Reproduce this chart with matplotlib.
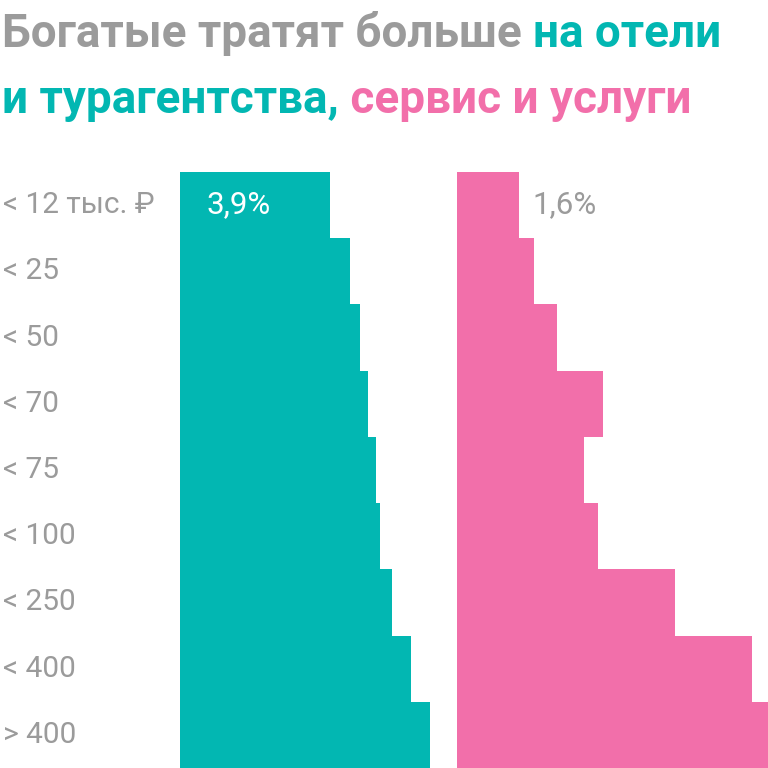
import matplotlib
matplotlib.use("Agg")
import matplotlib.pyplot as plt

categories = ["< 12 тыс. ₽", "< 25", "< 50", "< 70", "< 75", "< 100", "< 250", "< 400", "> 400"]
hotels = [3.9, 4.42, 4.68, 4.9, 5.1, 5.2, 5.5, 6.0, 6.5]
services = [1.6, 2.0, 2.6, 3.8, 3.3, 3.67, 5.68, 7.67, 8.5]

TEAL = "#02B7B2"
PINK = "#F26FAA"
GRAY = "#9B9B9B"

plt.rcParams["font.family"] = ["Roboto", "DejaVu Sans"]

W = 768
fig = plt.figure(figsize=(7.68, 7.68), dpi=100)

PX_PER_PCT = 150 / 3.9
top_px = 172


def add_axes(left_px, width_px):
    ax = fig.add_axes([left_px / W, 0, width_px / W, (W - top_px) / W])
    ax.set_xlim(0, width_px / PX_PER_PCT)
    ax.set_ylim(len(categories) - 0.5, -0.5)
    ax.axis("off")
    return ax


ax1 = add_axes(180, 277)
ax2 = add_axes(457, 311)

ypos = list(range(len(categories)))
ax1.barh(ypos, hotels, height=1.0, color=TEAL, linewidth=0)
ax2.barh(ypos, services, height=1.0, color=PINK, linewidth=0)

for i, lab in enumerate(categories):
    ax1.text((3 - 180) / 277, i, lab, transform=ax1.get_yaxis_transform(),
             ha="left", va="center", fontsize=21.5, color=GRAY)

ax1.text((206 - 180) / 277, 0, "3,9%", transform=ax1.get_yaxis_transform(),
         ha="left", va="center", fontsize=22.5, color="white")
ax2.text((532 - 457) / 311, 0, "1,6%", transform=ax2.get_yaxis_transform(),
         ha="left", va="center", fontsize=22.5, color=GRAY)

# Title with multi-coloured segments
title_lines = [
    [("Богатые тратят больше ", GRAY), ("на отели", TEAL)],
    [("и турагентства,", TEAL), (" сервис и услуги", PINK)],
]
baselines = [47, 113]
fig.canvas.draw()
renderer = fig.canvas.get_renderer()
for segs, base in zip(title_lines, baselines):
    x = 2 / W
    for txt, col in segs:
        t = fig.text(x, 1 - base / W, txt, color=col, fontsize=33,
                     fontweight="bold", ha="left", va="baseline")
        bb = t.get_window_extent(renderer=renderer)
        x = bb.x1 / W

fig.savefig("out.png", dpi=100)
